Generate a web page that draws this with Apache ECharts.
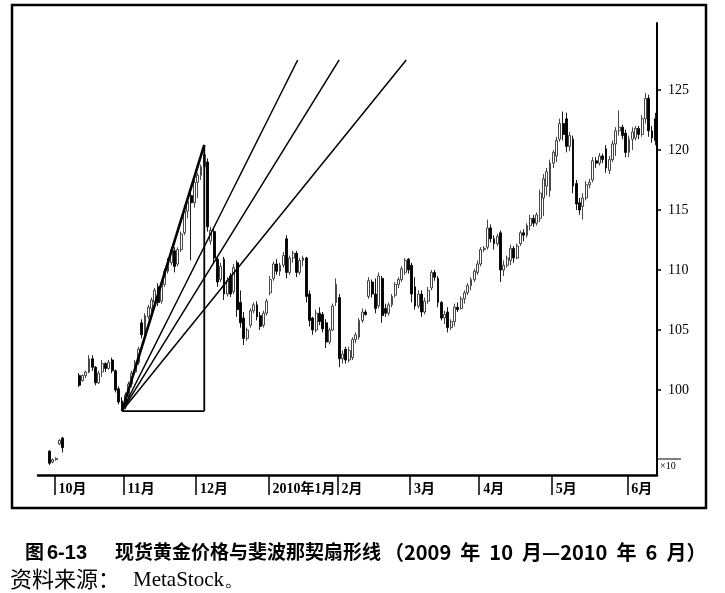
<!DOCTYPE html>
<html>
<head>
<meta charset="utf-8">
<script src="https://cdn.jsdelivr.net/npm/echarts@6/dist/echarts.min.js"></script>
<style>
html, body { margin: 0; padding: 0; background: #fff; }
#chart { width: 725px; height: 593px; }
</style>
</head>
<body>
<div id="chart"></div>
<script>
// month names on the axis, one per block of trading days below
var monthNames = ['9月', '10月', '11月', '12月', '2010年1月', '2月', '3月', '4月', '5月', '6月'];

// daily bars: [open, close, low, high], null = nothing visible
var sep = [null, null, null, [94.9, 93.9, 93.75, 95.0], [94.0, 94.2, 93.9, 94.3]];
var oct = [
	[94.2, 94.3, 94.1, 94.4], [95.5, 95.8, 95.4, 95.9], [96.0, 95.2, 94.8, 96.1], null, null, null, null,
	[101.2, 100.4, 100.25, 101.4], [100.8, 101.2, 100.7, 101.3], [101.2, 101.5, 101.0, 101.6], [101.5, 102.6, 101.4, 102.9],
	[102.6, 101.9, 101.6, 102.9], [101.9, 100.6, 100.4, 102.0], [100.6, 101.4, 100.5, 101.6], [101.5, 102.2, 101.1, 102.5],
	[102.2, 101.8, 101.5, 102.3], [101.8, 102.3, 101.7, 102.5], [102.5, 101.6, 101.4, 102.7], [101.6, 100.0, 99.8, 101.7],
	[100.1, 99.0, 98.8, 100.3], [99.1, 98.6, 98.25, 99.4]
];
var nov = [
	[98.6, 99.6, 98.4, 99.8], [99.6, 100.5, 99.4, 100.7], [100.5, 101.4, 100.2, 101.6], [101.5, 102.3, 101.3, 102.5],
	[102.3, 103.4, 102.1, 103.6], [105.6, 104.6, 104.3, 105.9], [104.8, 106.2, 104.6, 106.4], [106.1, 106.9, 105.9, 107.1],
	[106.8, 107.5, 106.5, 107.7], [107.3, 108.3, 107.0, 108.5], [108.6, 107.3, 107.0, 108.9], [107.4, 108.8, 107.2, 109.0],
	[108.8, 109.9, 108.6, 110.1], [109.9, 110.8, 109.7, 111.0], [110.6, 111.7, 110.4, 111.9], [111.6, 110.3, 109.8, 111.9],
	[110.5, 111.7, 110.3, 111.9], [111.7, 113.0, 111.5, 113.2], [113.1, 114.9, 112.9, 115.2], [114.9, 115.7, 114.3, 116.0],
	[116.2, 115.6, 110.8, 116.7], [115.6, 117.3, 115.2, 117.6]
];
var dec = [
	[117.3, 117.9, 116.0, 118.1], [117.9, 118.6, 117.5, 118.8], [118.6, 119.6, 118.3, 120.42], [119.0, 113.6, 113.2, 119.3],
	[112.4, 113.3, 112.1, 113.6], [113.2, 111.0, 110.6, 113.6], [110.9, 109.0, 108.6, 111.1], [109.2, 110.3, 109.0, 110.6],
	[110.9, 108.0, 107.5, 111.1], [108.0, 109.1, 107.8, 109.4], [109.5, 108.0, 107.75, 109.75], [108.2, 110.2, 108.0, 110.5],
	[110.6, 106.7, 106.1, 110.8], [107.3, 105.6, 105.2, 108.3], [106.0, 104.3, 103.75, 106.5], [104.3, 105.0, 104.1, 105.2],
	[105.4, 106.6, 105.2, 106.8], [106.6, 107.1, 106.4, 107.3], [107.1, 106.1, 105.8, 107.4], [106.2, 105.3, 105.0, 106.5],
	[105.4, 106.4, 105.2, 106.6], [106.4, 107.4, 106.2, 107.6]
];
var jan = [
	[108.1, 109.2, 107.9, 109.5], [109.3, 110.5, 109.1, 110.7], [110.5, 109.9, 109.6, 110.9], [109.9, 110.4, 109.5, 110.6],
	[110.4, 111.2, 110.2, 111.5], [112.6, 109.8, 109.3, 112.9], [109.8, 111.0, 109.6, 111.2], [111.0, 111.4, 110.6, 111.6],
	[111.4, 109.8, 109.4, 111.6], [109.8, 110.8, 109.6, 111.0], [110.8, 111.0, 110.3, 111.2], [111.0, 107.8, 107.3, 111.1],
	[108.0, 105.8, 105.3, 108.3], [106.0, 105.0, 104.6, 106.1], [105.0, 106.4, 104.8, 106.7], [106.4, 105.7, 105.4, 106.9],
	[106.3, 105.1, 104.8, 106.5], [105.6, 104.0, 103.5, 105.9], [104.0, 105.0, 103.8, 105.2], [105.0, 107.0, 104.9, 107.2],
	[107.3, 108.8, 107.0, 109.3]
];
var feb = [
	[107.7, 102.6, 101.9, 108.0], [102.6, 103.0, 102.2, 103.3], [103.4, 102.5, 102.2, 103.6], [102.5, 103.3, 102.3, 103.6],
	[102.7, 104.2, 102.5, 104.4], [104.2, 104.6, 103.9, 104.8], [104.4, 105.8, 104.2, 106.0], [105.8, 106.5, 105.6, 106.8],
	[106.5, 106.3, 106.2, 106.7], [107.8, 109.1, 107.6, 109.4], [109.0, 108.0, 107.7, 109.2], [108.0, 106.8, 106.4, 109.3],
	[107.0, 109.5, 106.8, 109.8], [109.3, 106.2, 105.6, 109.5], [106.8, 106.4, 106.1, 107.2], [106.4, 107.1, 106.2, 107.3],
	[107.1, 107.8, 106.9, 108.0], [107.9, 108.8, 107.7, 109.0], [108.8, 109.2, 108.5, 109.4], [109.2, 110.1, 109.0, 110.3],
	[109.8, 110.8, 109.6, 111.0], [110.9, 110.0, 109.7, 111.0]
];
var mar = [
	[110.4, 108.0, 107.3, 110.6], [108.6, 107.0, 106.7, 109.4], [107.0, 108.0, 106.8, 108.3], [108.0, 106.5, 106.1, 108.3],
	[106.5, 107.4, 106.3, 107.7], [107.4, 108.3, 107.2, 108.6], [108.5, 109.8, 108.3, 110.0], [109.8, 109.4, 109.1, 110.0],
	[109.3, 107.3, 106.9, 109.5], [107.3, 106.0, 105.8, 107.4], [106.0, 106.3, 105.5, 106.6], [106.5, 105.2, 104.8, 106.9],
	[105.2, 105.7, 105.0, 105.9], [105.7, 106.9, 105.3, 107.2], [106.9, 106.7, 106.5, 107.3], [106.8, 107.6, 106.7, 107.8],
	[107.6, 108.1, 107.2, 108.3], [108.1, 108.7, 107.9, 108.9], [108.7, 109.2, 108.3, 109.4], [109.2, 109.9, 109.0, 110.1],
	[109.8, 110.5, 109.6, 110.8]
];
var apr = [
	[110.5, 111.7, 110.3, 111.9], [111.7, 111.8, 111.5, 112.0], [111.9, 113.5, 111.7, 114.2], [113.5, 112.6, 112.3, 113.8],
	[112.6, 112.2, 111.7, 112.9], [112.2, 112.8, 112.0, 113.0], [113.1, 110.0, 109.0, 113.3], [110.0, 110.4, 109.5, 110.8],
	[110.4, 111.0, 110.2, 111.2], [110.8, 111.8, 110.4, 112.1], [111.8, 111.0, 110.6, 112.0], [111.0, 112.0, 110.9, 112.2],
	[112.2, 113.1, 112.0, 113.3], [113.1, 112.9, 112.4, 113.4], [112.9, 113.7, 112.7, 113.9], [113.7, 114.3, 113.3, 114.6],
	[114.3, 113.9, 113.6, 114.6], [113.9, 114.6, 113.7, 114.8], [114.3, 116.4, 114.0, 116.7], [116.0, 117.6, 114.5, 118.0],
	[117.0, 118.2, 116.2, 118.5], [116.6, 118.9, 116.1, 119.2]
];
var may = [
	[118.9, 119.8, 118.5, 120.0], [119.5, 120.8, 119.0, 121.1], [120.9, 122.2, 120.7, 122.6], [122.2, 121.3, 120.8, 123.2],
	[122.6, 120.3, 119.8, 123.1], [120.3, 121.2, 119.9, 121.5], [120.9, 117.0, 116.4, 121.2], [117.2, 115.5, 115.0, 117.5],
	[115.6, 115.0, 114.6, 116.0], [115.3, 116.0, 114.2, 116.4], [116.0, 117.1, 115.8, 117.4], [117.1, 117.3, 116.8, 117.6],
	[117.5, 119.1, 117.3, 119.4], [119.1, 118.9, 118.5, 119.4], [118.9, 119.5, 118.7, 119.75], [119.5, 119.2, 118.9, 119.7],
	[120.1, 118.5, 118.1, 120.4], [118.3, 119.2, 118.0, 119.5], [119.2, 120.5, 119.0, 120.8], [120.5, 121.6, 119.5, 121.9],
	[121.6, 121.9, 121.2, 123.3], [121.9, 121.2, 120.9, 122.1], [121.4, 119.8, 119.4, 121.7]
];
var jun = [
	[119.8, 120.9, 119.4, 121.2], [120.9, 121.5, 120.0, 121.9], [121.0, 121.8, 120.8, 122.0], [121.8, 121.3, 120.9, 122.0],
	[121.3, 122.6, 121.1, 122.9], [122.6, 124.3, 122.2, 124.75], [124.3, 121.6, 121.1, 124.6], [121.6, 121.0, 120.6, 122.0],
	[122.6, 120.8, 120.4, 123.1]
];
var yLabels = [100, 105, 110, 115, 120, 125];

// Fibonacci fan: drawn from the low bar to the high bar
var fanFrom = '10月#21';
var fanTo = '12月#3';
var fanRatios = [0.618, 0.5, 0.382];
var fanTop = 127.5;

var months = [sep, oct, nov, dec, jan, feb, mar, apr, may, jun];
var categories = [];
var bars = [];
var monthEdges = [];      // band edge in front of each month's first day
var monthEdgeName = {};
for (var m = 0; m < months.length; m++) {
	for (var k = 0; k < months[m].length; k++) {
		if (k === 0 && m > 0) {
			var edge = categories.length - 0.5;
			monthEdges.push(edge);
			monthEdgeName[String(edge)] = monthNames[m];
		}
		categories.push(monthNames[m] + '#' + (k + 1));
		bars.push(months[m][k] ? months[m][k] : ['-', '-', '-', '-']);
	}
}

var i0 = categories.indexOf(fanFrom);
var i1 = categories.indexOf(fanTo);
var lowV = bars[i0][2];
var highV = bars[i1][3];

var lineSeries = function (pts, width) {
	return {
		type: 'line',
		xAxisIndex: 1,
		yAxisIndex: 0,
		data: pts,
		symbol: 'none',
		silent: true,
		lineStyle: { color: '#000', width: width },
		z: 5
	};
};

var overlays = [
	lineSeries([[i0, lowV], [i1, highV]], 2.6),
	lineSeries([[i1, highV], [i1, lowV]], 1.8),
	lineSeries([[i0, lowV], [i1, lowV]], 1.8)
];
for (var r = 0; r < fanRatios.length; r++) {
	var rise = fanRatios[r] * (highV - lowV);
	var endIdx = i0 + (fanTop - lowV) / rise * (i1 - i0);
	overlays.push(lineSeries([[i0, lowV], [endIdx, fanTop]], 1.5));
}

var myChart = echarts.init(document.getElementById('chart'));
var option = {
	backgroundColor: '#fff',
	animation: false,
	grid: { left: 38, right: 68, top: 23, bottom: 118 },
	xAxis: [{
		type: 'category',
		data: categories,
		boundaryGap: true,
		axisLine: { lineStyle: { color: '#000', width: 2.5 } },
		axisTick: { show: false },
		axisLabel: { show: false },
		splitLine: { show: false }
	}, {
		// same scale as the bars, only used for month ticks and the fan lines
		type: 'value',
		position: 'bottom',
		min: -0.5,
		max: categories.length - 0.5,
		axisLine: { show: false, onZero: false },
		axisTick: {
			show: true,
			customValues: monthEdges,
			length: 20,
			lineStyle: { color: '#000', width: 1.5 }
		},
		axisLabel: {
			show: true,
			customValues: monthEdges,
			formatter: function (v) { return monthEdgeName[String(v)] || ''; },
			align: 'left',
			padding: [0, 0, 0, 4],
			margin: 7,
			color: '#000',
			fontSize: 14,
			fontWeight: 'bold',
			fontFamily: '"Liberation Serif", "Noto Sans CJK SC"'
		},
		splitLine: { show: false }
	}],
	yAxis: {
		type: 'value',
		position: 'right',
		min: 92.92,
		max: 130.58,
		axisLine: { show: true, onZero: false, lineStyle: { color: '#000', width: 2 } },
		axisTick: { show: true, customValues: yLabels, length: 4, lineStyle: { color: '#000', width: 1.5 } },
		axisLabel: {
			customValues: yLabels,
			margin: 11,
			color: '#000',
			fontSize: 14,
			fontFamily: 'Liberation Serif'
		},
		splitLine: { show: false }
	},
	series: [{
		type: 'candlestick',
		data: bars,
		barWidth: '72%',
		itemStyle: {
			color: '#fff',
			color0: '#000',
			borderColor: '#333',
			borderColor0: '#000',
			borderWidth: 0.9
		}
	}].concat(overlays),
	graphic: [
		{ type: 'rect', shape: { x: 12, y: 5, width: 694, height: 503 }, style: { fill: 'none', stroke: '#000', lineWidth: 2.5 }, silent: true },
		{ type: 'line', shape: { x1: 657, y1: 459, x2: 681, y2: 459 }, style: { stroke: '#000', lineWidth: 1 }, silent: true },
		{ type: 'line', shape: { x1: 657, y1: 449, x2: 657, y2: 472 }, style: { stroke: '#000', lineWidth: 1 }, silent: true },
		{ type: 'text', style: { text: '×10', x: 660, y: 466, font: '10px "Liberation Serif"', fill: '#000', verticalAlign: 'middle' }, silent: true },
		{ type: 'text', style: { text: '图', x: 25, y: 552, font: 'bold 19px "Noto Sans CJK SC"', fill: '#000', verticalAlign: 'middle' }, silent: true },
		{ type: 'text', style: { text: '6-13', x: 47, y: 553, font: 'bold 20px "Liberation Sans"', fill: '#000', verticalAlign: 'middle' }, silent: true },
		{ type: 'text', style: { text: '现货黄金价格与斐波那契扇形线', x: 115, y: 552, font: 'bold 19px "Noto Sans CJK SC"', fill: '#000', verticalAlign: 'middle' }, silent: true },
		{ type: 'text', style: { text: '（2009  年  10  月—2010  年  6  月）', x: 384, y: 552, font: 'bold 20px "Noto Sans CJK SC"', fill: '#000', verticalAlign: 'middle' }, silent: true },
		{ type: 'text', style: { text: '资料来源：', x: 10, y: 579, font: '22px "Noto Sans CJK SC"', fill: '#000', verticalAlign: 'middle' }, silent: true },
		{ type: 'text', style: { text: 'MetaStock。', x: 133, y: 580, font: '21px "Liberation Serif"', fill: '#000', verticalAlign: 'middle' }, silent: true }
	]
};
myChart.setOption(option);
</script>
</body>
</html>
